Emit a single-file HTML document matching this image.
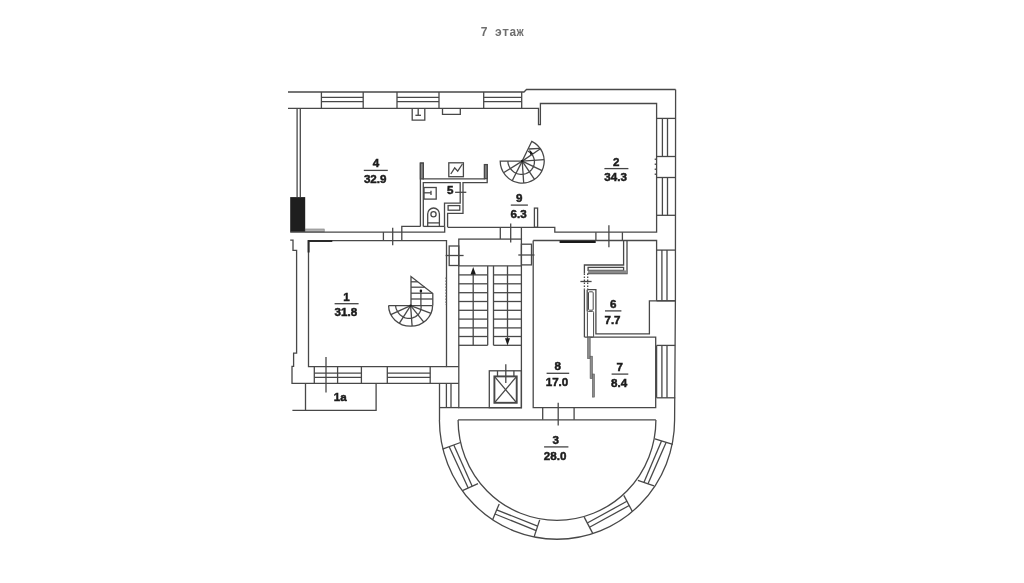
<!DOCTYPE html>
<html><head><meta charset="utf-8"><style>
html,body{margin:0;padding:0;background:#fff;}
body{width:1024px;height:583px;overflow:hidden;position:relative;}
svg{position:absolute;left:0;top:0;will-change:transform;}
svg path,svg rect,svg circle{fill:none;stroke:#484848;stroke-width:1.3;}
svg .f{fill:#1a1a1a;stroke:none;}
svg text.t{font-family:"Liberation Sans",sans-serif;font-weight:bold;font-size:11.6px;fill:#1c1c1c;stroke:#1c1c1c;stroke-width:0.5;text-anchor:middle;}
svg text.ttl{font-family:"Liberation Mono",monospace;font-size:12px;font-weight:bold;fill:#6e6e6e;white-space:pre;}
.title{position:absolute;left:481px;top:25.5px;font-family:"Liberation Mono",monospace;font-size:12px;font-weight:bold;color:#707070;letter-spacing:0px;white-space:pre;}
</style></head><body>
<svg width="1024" height="583" viewBox="0 0 1024 583">
<path d="M288.0,92.0 L524.0,92.0 L526.5,89.5 L675.6,89.5"/>
<path d="M288.0,108.3 L538.5,108.3 L538.5,124.7 L540.4,124.7 L540.4,103.5 L656.6,103.5 L656.6,232.2 L554.8,232.2 L554.8,227.3 L447.8,227.3"/>
<path d="M321.4,92.0 L321.4,108.3"/>
<path d="M363.2,92.0 L363.2,108.3"/>
<path d="M321.4,97.3 L363.2,97.3"/>
<path d="M321.4,101.6 L363.2,101.6"/>
<path d="M397.0,92.0 L397.0,108.3"/>
<path d="M439.0,92.0 L439.0,108.3"/>
<path d="M397.0,97.3 L439.0,97.3"/>
<path d="M397.0,101.6 L439.0,101.6"/>
<path d="M483.7,92.0 L483.7,108.3"/>
<path d="M521.7,92.0 L521.7,108.3"/>
<path d="M483.7,97.3 L521.7,97.3"/>
<path d="M483.7,101.6 L521.7,101.6"/>
<path d="M412.2,108.3 L412.2,120.2 L424.8,120.2 L424.8,108.3"/>
<path d="M418.2,108.3 L418.2,115.3"/>
<path d="M415.4,115.3 L421.0,115.3"/>
<path d="M442.5,108.3 L442.5,114.4 L460.3,114.4 L460.3,108.3"/>
<path d="M675.6,89.5 L675.4,300.0 L674.6,420.0"/>
<path d="M656.6,118.4 L675.4,118.4"/>
<path d="M656.6,156.5 L675.4,156.5"/>
<path d="M662.4,118.4 L662.4,156.5"/>
<path d="M667.5,118.4 L667.5,156.5"/>
<path d="M656.6,177.5 L675.4,177.5"/>
<path d="M656.6,215.3 L675.4,215.3"/>
<path d="M662.4,177.5 L662.4,215.3"/>
<path d="M667.5,177.5 L667.5,215.3"/>
<path d="M655.3,158.5 L655.3,175.0" stroke-dasharray="1.4 3.6" style="stroke-width:1.2"/>
<path d="M297.1,108.3 L297.1,197.1"/>
<path d="M300.3,108.3 L300.3,197.1"/>
<rect x="290.2" y="197.1" width="15.0" height="34.8" style="fill:#1e1e1e;stroke:none"/>
<rect x="305.2" y="229.0" width="19.0" height="2.9" style="fill:#b4b4b4;stroke:#777;stroke-width:0.6"/>
<path d="M290.2,232.1 L444.7,232.1 L444.7,226.6"/>
<path d="M420.4,226.4 L420.4,163.1 L423.3,163.1 L423.3,178.9 L484.5,178.9 L484.5,164.6 L487.2,164.6 L487.2,182.6 L463.0,182.6 L463.0,213.4 L447.6,213.4 L447.6,227.3"/>
<path d="M401.8,240.5 L401.8,226.4 L420.4,226.4"/>
<path d="M423.3,226.4 L444.6,226.4"/>
<path d="M423.3,226.4 L423.3,182.6 L460.2,182.6 L460.2,203.2 L444.5,203.2 L444.5,226.4"/>
<rect x="420.4" y="163.1" width="2.9" height="15.8" style="fill:#8e8e8e"/>
<rect x="484.5" y="164.6" width="2.7" height="14.0" style="fill:#8e8e8e"/>
<rect x="448.8" y="162.8" width="14.6" height="13.9"/>
<path d="M450.8,174.0 L454.7,167.9 L457.7,171.2 L462.4,164.0"/>
<rect x="424.0" y="187.5" width="12.2" height="11.6"/>
<path d="M424.0,192.8 L431.0,192.8"/>
<path d="M431.0,190.8 L431.0,195.0"/>
<rect x="448.1" y="205.6" width="11.7" height="4.6"/>
<path d="M427.7,226.4 L427.7,214.0" fill="none"/>
<path d="M427.7,214 A5.85,6 0 0 1 439.4,214"/>
<path d="M439.4,214.0 L439.4,226.4"/>
<path d="M427.7,222.9 L439.4,222.9"/>
<circle cx="433.5" cy="214.3" r="2.6"/>
<path d="M455.1,192.3 L466.3,192.3"/>
<path d="M383.4,232.1 L383.4,240.5"/>
<path d="M392.7,227.7 L392.7,245.3"/>
<path d="M308.5,240.6 L446.5,240.6 L446.5,366.6 L458.8,366.6"/>
<path d="M308.5,240.6 L308.5,366.6 L446.5,366.6"/>
<path d="M308.6,252.6 L308.6,241.0 L332.3,241.0" style="stroke-width:2.0;stroke:#2a2a2a"/>
<path d="M290.2,240.2 L293.0,240.2 L293.0,250.4 L296.6,250.4 L296.6,353.2 L293.6,353.2 L293.6,366.3 L292.0,366.3 L292.0,383.3 L458.8,383.3"/>
<path d="M314.3,366.6 L314.3,383.3"/>
<path d="M361.4,366.6 L361.4,383.3"/>
<path d="M314.3,373.2 L361.4,373.2"/>
<path d="M314.3,377.3 L361.4,377.3"/>
<path d="M387.3,366.6 L387.3,383.3"/>
<path d="M430.2,366.6 L430.2,383.3"/>
<path d="M387.3,373.2 L430.2,373.2"/>
<path d="M387.3,377.3 L430.2,377.3"/>
<path d="M337.6,366.6 L337.6,383.3"/>
<path d="M326.0,357.0 L326.0,392.5"/>
<path d="M292.4,410.3 L376.1,410.3 L376.1,383.3"/>
<path d="M305.5,383.3 L305.5,410.3"/>
<rect x="458.8" y="239.1" width="62.6" height="168.6"/>
<path d="M500.3,227.3 L500.3,239.1"/>
<path d="M521.4,227.3 L521.4,239.1"/>
<path d="M510.7,223.4 L510.7,242.6"/>
<rect x="449.2" y="246.0" width="9.6" height="19.5"/>
<path d="M445.6,255.5 L463.6,255.5"/>
<rect x="521.4" y="244.2" width="10.1" height="20.7"/>
<path d="M518.3,255.0 L534.5,255.0"/>
<path d="M458.8,265.9 L521.4,265.9"/>
<path d="M487.7,265.9 L487.7,345.3"/>
<path d="M493.5,265.9 L493.5,345.3"/>
<path d="M458.8,274.9 L487.7,274.9"/>
<path d="M493.5,274.9 L521.4,274.9"/>
<path d="M458.8,283.8 L487.7,283.8"/>
<path d="M493.5,283.8 L521.4,283.8"/>
<path d="M458.8,292.7 L487.7,292.7"/>
<path d="M493.5,292.7 L521.4,292.7"/>
<path d="M458.8,301.5 L487.7,301.5"/>
<path d="M493.5,301.5 L521.4,301.5"/>
<path d="M458.8,310.3 L487.7,310.3"/>
<path d="M493.5,310.3 L521.4,310.3"/>
<path d="M458.8,319.1 L487.7,319.1"/>
<path d="M493.5,319.1 L521.4,319.1"/>
<path d="M458.8,327.9 L487.7,327.9"/>
<path d="M493.5,327.9 L521.4,327.9"/>
<path d="M458.8,336.5 L487.7,336.5"/>
<path d="M493.5,336.5 L521.4,336.5"/>
<path d="M458.8,345.3 L487.7,345.3"/>
<path d="M493.5,345.3 L521.4,345.3"/>
<path d="M473.2,272.5 L473.2,345.3"/>
<path d="M473.2,267.0 L470.5,274.4 L475.9,274.4 Z" class="f"/>
<path d="M507.5,265.9 L507.5,340.0"/>
<path d="M507.5,345.4 L505.0,338.3 L510.0,338.3 Z" class="f"/>
<rect x="489.3" y="370.8" width="32.1" height="36.9"/>
<rect x="494.4" y="376.4" width="22.3" height="26.4" style="stroke-width:1.9"/>
<path d="M494.4,376.4 L516.7,402.8"/>
<path d="M516.7,376.4 L494.4,402.8"/>
<path d="M505.8,364.3 L505.8,383.0"/>
<path d="M497.5,370.8 L497.5,376.4"/>
<path d="M513.9,370.8 L513.9,376.4"/>
<path d="M533.2,240.5 L656.6,240.5 L656.6,300.8"/>
<path d="M533.2,240.5 L533.2,407.6 L655.7,407.6 L655.7,337.2 L584.6,337.2"/>
<path d="M559.6,241.8 L595.7,241.8" style="stroke-width:2.2;stroke:#1a1a1a"/>
<path d="M595.9,232.2 L595.9,240.5"/>
<path d="M622.4,232.2 L622.4,240.5"/>
<path d="M608.9,225.2 L608.9,247.2"/>
<path d="M656.6,250.1 L675.2,250.1"/>
<path d="M656.6,300.8 L675.2,300.8"/>
<path d="M661.9,250.1 L661.9,300.8"/>
<path d="M667.0,250.1 L667.0,300.8"/>
<path d="M656.6,345.4 L675.2,345.4"/>
<path d="M656.6,397.8 L675.2,397.8"/>
<path d="M661.9,345.4 L661.9,397.8"/>
<path d="M667.0,345.4 L667.0,397.8"/>
<path d="M656.6,345.4 L656.6,397.8"/>
<path d="M675.2,300.8 L649.4,300.8 L649.4,333.8 L595.9,333.8 L595.9,289.7 L587.7,289.7"/>
<path d="M623.6,240.5 L623.6,265.0 L584.4,265.0 L584.4,273.5"/>
<path d="M627.0,240.5 L627.0,273.5 L587.7,273.5"/>
<rect x="588.1" y="267.4" width="35.5" height="3.0" style="fill:#fff"/>
<rect x="588.1" y="270.4" width="38.9" height="3.1" style="fill:#8a8a8a;stroke:none"/>
<path d="M584.4,273.5 L584.4,289.7" stroke-dasharray="1.5 1.5"/>
<path d="M587.7,273.5 L587.7,289.7" stroke-dasharray="1.5 1.5"/>
<path d="M584.4,289.7 L584.4,337.2"/>
<path d="M580.4,281.5 L591.6,281.5"/>
<rect x="588.5" y="291.8" width="4.7" height="18.4" rx="1" style="stroke-width:1.0"/>
<rect x="587.4" y="311.4" width="6.2" height="25.8" rx="1" style="stroke-width:1.0"/>
<path d="M587.2,289.7 L587.2,311.4"/>
<rect x="587.6" y="337.2" width="2.6" height="21.4" style="fill:#8c8c8c;stroke:#555;stroke-width:0.6"/>
<rect x="590.1" y="356.2" width="2.3" height="22.4" style="fill:#8c8c8c;stroke:#555;stroke-width:0.6"/>
<rect x="592.4" y="374.0" width="2.0" height="23.1" style="fill:#8c8c8c;stroke:#555;stroke-width:0.6"/>
<path d="M439.5,383.3 L439.5,420.0"/>
<path d="M458.8,407.6 L439.5,407.6"/>
<path d="M446.4,383.3 L446.4,407.6"/>
<path d="M451.0,383.3 L451.0,407.6"/>
<path d="M439.4,420.0 A117.6,119.3 0 0 0 674.6,420.0"/>
<path d="M458.1,420.0 A98.9,100.3 0 0 0 655.9,420.0"/>
<path d="M458.1,419.8 L655.9,419.8"/>
<path d="M542.7,407.6 L542.7,419.8"/>
<path d="M574.1,407.6 L574.1,419.8"/>
<path d="M558.2,402.7 L558.2,425.6"/>
<path d="M460.5,442.5 L442.5,449.2"/>
<path d="M478.0,483.7 L462.4,490.7"/>
<path d="M453.8,445.0 L472.2,486.3"/>
<path d="M449.2,446.7 L468.2,488.1"/>
<path d="M499.2,503.9 L492.5,519.9"/>
<path d="M539.7,519.9 L534.1,536.9"/>
<path d="M496.7,509.8 L537.6,526.2"/>
<path d="M495.0,514.0 L536.2,530.6"/>
<path d="M584.2,517.1 L592.6,533.1"/>
<path d="M623.8,495.4 L632.3,511.4"/>
<path d="M587.3,523.0 L626.9,501.3"/>
<path d="M589.5,527.2 L629.2,505.5"/>
<path d="M637.9,480.3 L654.0,485.9"/>
<path d="M654.9,438.8 L672.8,444.4"/>
<path d="M643.9,482.4 L661.5,440.9"/>
<path d="M648.0,483.8 L666.2,442.3"/>
<rect x="534.4" y="208.1" width="3.2" height="19.2"/>
<path d="M522.2,161.1 L500.2,161.1 A22.0,22.0 0 1 0 531.8,141.3 Z"/>
<path d="M522.2,161.1 L503.5,172.8"/>
<path d="M522.2,161.1 L512.2,180.7"/>
<path d="M522.2,161.1 L523.7,183.0"/>
<path d="M522.2,161.1 L534.5,179.3"/>
<path d="M522.2,161.1 L542.0,170.7"/>
<path d="M522.2,161.1 L544.1,159.6"/>
<path d="M522.2,161.1 L540.4,148.8"/>
<path d="M507.9,161.1 L508.0,162.6 L508.3,164.0 L508.8,165.5 L509.4,166.8 L510.1,168.1 L511.0,169.3 L511.9,170.3 L513.0,171.3 L514.2,172.2 L515.4,172.9 L516.7,173.5 L518.0,173.9 L519.4,174.2 L520.8,174.3 L522.2,174.3 L523.6,174.2 L524.9,173.9 L526.2,173.5 L527.5,172.9 L528.7,172.3 L529.7,171.5 L530.7,170.6 L531.6,169.6 L532.4,168.5 L533.1,167.4 L533.6,166.2 L534.0,164.9 L534.3,163.7 L534.4,162.4 L534.4,161.1 L534.3,159.8 L534.0,158.6 L533.6,157.4 L533.1,156.3 L532.5,155.2 L531.7,154.2 L530.9,153.3 L530.0,152.4 L529.0,151.7 L528.0,151.1" fill="none"/>
<circle cx="522.2" cy="161.1" r="1.3" class="f"/>
<path d="M529.3,149.5 L533.2,153.4 L530.4,154.9 Z" class="f"/>
<path d="M528.6,149.0 L540.2,148.3"/>
<path d="M388.6,305.6 A22.0,20.6 0 0 0 432.6,305.6"/>
<path d="M388.6,305.6 L432.6,305.6"/>
<path d="M410.6,305.6 L390.8,314.6"/>
<path d="M410.6,305.6 L399.3,323.3"/>
<path d="M410.6,305.6 L412.1,326.1"/>
<path d="M410.6,305.6 L423.8,322.1"/>
<path d="M410.6,305.6 L431.0,313.3"/>
<path d="M411.0,305.6 L411.0,276.5 L432.8,293.5 L432.8,305.6"/>
<path d="M411.0,281.8 L417.8,281.8"/>
<path d="M411.0,287.2 L424.7,287.2"/>
<path d="M411.0,293.2 L432.4,293.2"/>
<path d="M411.0,299.0 L432.8,299.0"/>
<path d="M395.6,305.6 L395.8,307.2 L396.2,308.7 L396.8,310.1 L397.5,311.5 L398.3,312.7 L399.2,313.9 L400.3,314.9 L401.4,315.8 L402.6,316.6 L403.9,317.3 L405.2,317.8 L406.5,318.1 L407.9,318.3 L409.3,318.4 L410.6,318.3 L411.9,318.1 L413.2,317.7 L414.4,317.2 L415.5,316.6 L416.6,315.9 L417.5,315.1 L418.4,314.2 L419.1,313.3 L419.8,312.3 L420.3,311.2 L420.7,310.1 L420.9,309.0 L421.1,307.8 L421.1,306.7 L421.0,305.6 L420.9,305.6" fill="none"/>
<path d="M420.9,305.6 L420.9,291.5"/>
<circle cx="420.9" cy="290.9" r="1.3" class="f"/>
<circle cx="410.6" cy="305.6" r="1.2" class="f"/>
<text x="375.9" y="167.4" class="t">4</text>
<path d="M363.8,170.4 L387.8,170.4" style="stroke-width:1.3;stroke:#444"/>
<text x="375.2" y="183.0" class="t">32.9</text>
<text x="616.3" y="165.6" class="t">2</text>
<path d="M604.4,168.6 L628.4,168.6" style="stroke-width:1.3;stroke:#444"/>
<text x="615.6" y="181.2" class="t">34.3</text>
<text x="519.3" y="202.1" class="t">9</text>
<path d="M510.8,205.1 L527.9,205.1" style="stroke-width:1.3;stroke:#444"/>
<text x="518.6" y="217.7" class="t">6.3</text>
<text x="346.6" y="300.7" class="t">1</text>
<path d="M334.6,303.7 L358.6,303.7" style="stroke-width:1.3;stroke:#444"/>
<text x="345.9" y="316.3" class="t">31.8</text>
<text x="613.2" y="307.9" class="t">6</text>
<path d="M605.0,310.9 L621.4,310.9" style="stroke-width:1.3;stroke:#444"/>
<text x="612.5" y="323.5" class="t">7.7</text>
<text x="557.7" y="370.3" class="t">8</text>
<path d="M546.6,373.3 L569.2,373.3" style="stroke-width:1.3;stroke:#444"/>
<text x="557.0" y="385.9" class="t">17.0</text>
<text x="619.8" y="371.1" class="t">7</text>
<path d="M611.6,374.1 L628.3,374.1" style="stroke-width:1.3;stroke:#444"/>
<text x="619.1" y="386.7" class="t">8.4</text>
<text x="555.8" y="443.9" class="t">3</text>
<path d="M544.1,446.9 L568.4,446.9" style="stroke-width:1.3;stroke:#444"/>
<text x="555.1" y="459.5" class="t">28.0</text>
<text x="450.3" y="194.4" class="t">5</text>
<text x="340.2" y="401.0" class="t">1a</text>
<text x="480.4" y="35.6" class="ttl">7 этаж</text>
<path d="M445.9,277.5 L445.9,305.0" stroke-dasharray="1.4 1.6" style="stroke-width:1.0;stroke:#666"/>
</svg>
</body></html>
